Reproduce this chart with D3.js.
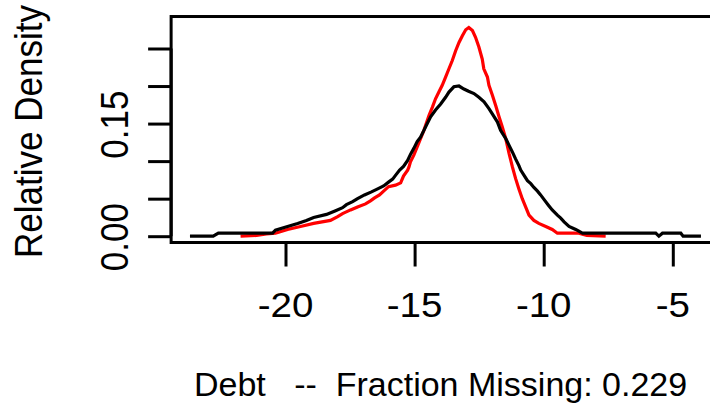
<!DOCTYPE html>
<html>
<head>
<meta charset="utf-8">
<script src="https://cdn.jsdelivr.net/npm/d3@7"></script>
<style>
  html, body { margin: 0; padding: 0; background: #fff; }
  svg { display: block; }
  text { font-family: "Liberation Sans", Arial, sans-serif; fill: #000; white-space: pre; }
</style>
</head>
<body>
<svg id="chart" width="710" height="405"></svg>
<script>
// Kernel density of Debt: all observations (black) and complete cases (red)
const allX = [-23.7, -22.8, -22.6, -20.5, -20.39, -19.92, -19.53, -19.19, -18.91, -18.41, -18.06, -17.79,
  -17.64, -17.40, -17.21, -16.94, -16.67, -16.43, -16.20, -16.01, -15.85, -15.74, -15.58, -15.43, -15.27,
  -15.16, -15.03, -14.90, -14.77, -14.64, -14.51, -14.38, -14.19, -13.99, -13.80, -13.67, -13.48, -13.28,
  -13.09, -12.91, -12.70, -12.51, -12.31, -12.12, -11.99, -11.79, -11.67, -11.47, -11.34, -11.21, -11.09,
  -10.96, -10.89, -10.76, -10.63, -10.50, -10.38, -10.24, -10.12, -9.99, -9.81, -9.67, -9.47, -9.34, -9.21,
  -9.02, -8.76, -8.50, -7.5, -6.5, -5.66, -5.54, -5.40, -4.69, -4.60, -3.91];
const allY = [0.000, 0.000, 0.004, 0.004, 0.008, 0.013, 0.017, 0.021, 0.025, 0.029, 0.034, 0.038,
  0.042, 0.046, 0.050, 0.055, 0.059, 0.063, 0.067, 0.072, 0.076, 0.081, 0.088, 0.093, 0.101,
  0.109, 0.117, 0.126, 0.132, 0.141, 0.150, 0.159, 0.168, 0.176, 0.185, 0.192, 0.199, 0.200,
  0.196, 0.193, 0.190, 0.185, 0.179, 0.170, 0.163, 0.152, 0.141, 0.130, 0.121, 0.112, 0.103,
  0.094, 0.088, 0.081, 0.074, 0.070, 0.065, 0.060, 0.055, 0.049, 0.041, 0.035, 0.028, 0.024, 0.019,
  0.013, 0.009, 0.004, 0.004, 0.004, 0.004, 0.000, 0.004, 0.004, 0.000, 0.000];

const obsX = [-21.74, -21.12, -20.74, -20.39, -19.92, -19.42, -18.91, -18.26, -17.98, -17.79, -17.48, -17.21,
  -16.90, -16.71, -16.55, -16.36, -16.20, -16.01, -15.74, -15.54, -15.43, -15.27, -15.22, -15.16, -15.03,
  -14.90, -14.77, -14.64, -14.44, -14.31, -14.19, -14.06, -13.93, -13.80, -13.67, -13.54, -13.41, -13.28,
  -13.15, -13.02, -12.90, -12.76, -12.64, -12.51, -12.38, -12.32, -12.18, -12.12, -11.99, -11.86, -11.73,
  -11.60, -11.47, -11.34, -11.21, -11.09, -10.96, -10.83, -10.70, -10.57, -10.38, -10.19, -9.92, -9.67,
  -9.47, -8.64, -8.33, -7.60];
const obsY = [0.000, 0.001, 0.003, 0.004, 0.009, 0.013, 0.017, 0.021, 0.026, 0.030, 0.035, 0.039,
  0.043, 0.047, 0.051, 0.055, 0.060, 0.066, 0.068, 0.071, 0.080, 0.088, 0.092, 0.099, 0.108,
  0.119, 0.130, 0.141, 0.161, 0.172, 0.183, 0.192, 0.201, 0.212, 0.223, 0.234, 0.247, 0.258,
  0.267, 0.275, 0.278, 0.274, 0.265, 0.252, 0.236, 0.223, 0.212, 0.201, 0.188, 0.174, 0.159,
  0.145, 0.130, 0.110, 0.092, 0.077, 0.063, 0.050, 0.039, 0.028, 0.021, 0.017, 0.013, 0.009,
  0.004, 0.004, 0.001, 0.000];

const xTicks = [-20, -15, -10, -5];
const xTickLabels = ["-20", "-15", "-10", "-5"];
const yTicks = [0, 0.05, 0.10, 0.15, 0.20, 0.25];
const yTickLabels = ["0.00", "", "", "0.15", "", ""];
const yTitle = "Relative Density";
const xTitle = "Debt   --  Fraction Missing: 0.229";

const xLim = [-24.43, -3.1];
const yLim = [-0.0084, 0.2926];

const svg = d3.select("#chart");
const x = d3.scaleLinear().domain([-20, -5]).range([285.5, 672.8]);
const y = d3.scaleLinear().domain([0, 0.25]).range([236.2, 48.5]);

const line = d3.line().x(d => x(d[0])).y(d => y(d[1]));

// density curves: red first so black sits on top
svg.append("path")
  .datum(d3.zip(obsX, obsY))
  .attr("d", line)
  .attr("fill", "none")
  .attr("stroke", "#ff0000")
  .attr("stroke-width", 3.2)
  .attr("stroke-linejoin", "miter");

svg.append("path")
  .datum(d3.zip(allX, allY))
  .attr("d", line)
  .attr("fill", "none")
  .attr("stroke", "#000")
  .attr("stroke-width", 3.2)
  .attr("stroke-linejoin", "miter");

// plot frame
svg.append("rect")
  .attr("x", x(xLim[0]))
  .attr("y", y(yLim[1]))
  .attr("width", x(xLim[1]) - x(xLim[0]))
  .attr("height", y(yLim[0]) - y(yLim[1]))
  .attr("fill", "none")
  .attr("stroke", "#000")
  .attr("stroke-width", 3);

// axes (tick marks only; labels drawn below)
const yAxis = d3.axisLeft(y).tickValues(yTicks).tickSize(23).tickFormat("");
const gy = svg.append("g").attr("transform", `translate(${x(xLim[0])},0)`).call(yAxis);
gy.select(".domain").attr("stroke-width", 3).attr("d", `M0,${y(yTicks[0])}V${y(yTicks[yTicks.length - 1])}`);
gy.selectAll(".tick line").attr("stroke-width", 3);

const xAxis = d3.axisBottom(x).tickValues(xTicks).tickSize(24).tickFormat("");
const gx = svg.append("g").attr("transform", `translate(0,${y(yLim[0])})`).call(xAxis);
gx.select(".domain").attr("stroke-width", 3).attr("d", `M${x(xTicks[0])},0H${x(xTicks[xTicks.length - 1])}`);
gx.selectAll(".tick line").attr("stroke-width", 3);

const fs = 35;
const sx = 1.1;

// x tick labels
svg.selectAll(".xlab").data(xTicks).enter().append("text")
  .attr("class", "xlab")
  .attr("transform", d => `translate(${x(d)},317) scale(${sx},1)`)
  .attr("text-anchor", "middle")
  .attr("font-size", fs)
  .text((d, i) => xTickLabels[i]);

// y tick labels (rotated)
svg.selectAll(".ylab").data(yTicks.filter((d, i) => yTickLabels[i] !== "")).enter().append("text")
  .attr("class", "ylab")
  .attr("transform", d => `translate(128,${y(d) + 1}) scale(${sx},1) rotate(-90)`)
  .attr("text-anchor", "middle")
  .attr("font-size", fs)
  .text(d => yTickLabels[yTicks.indexOf(d)]);

// axis titles
svg.append("text")
  .attr("transform", `translate(41.5,131.5) scale(${sx},1) rotate(-90)`)
  .attr("text-anchor", "middle")
  .attr("font-size", fs)
  .text(yTitle);

svg.append("text")
  .attr("transform", `translate(194,395.5)`)
  .attr("text-anchor", "start")
  .attr("font-size", 34)
  .text(xTitle);
</script>
</body>
</html>
